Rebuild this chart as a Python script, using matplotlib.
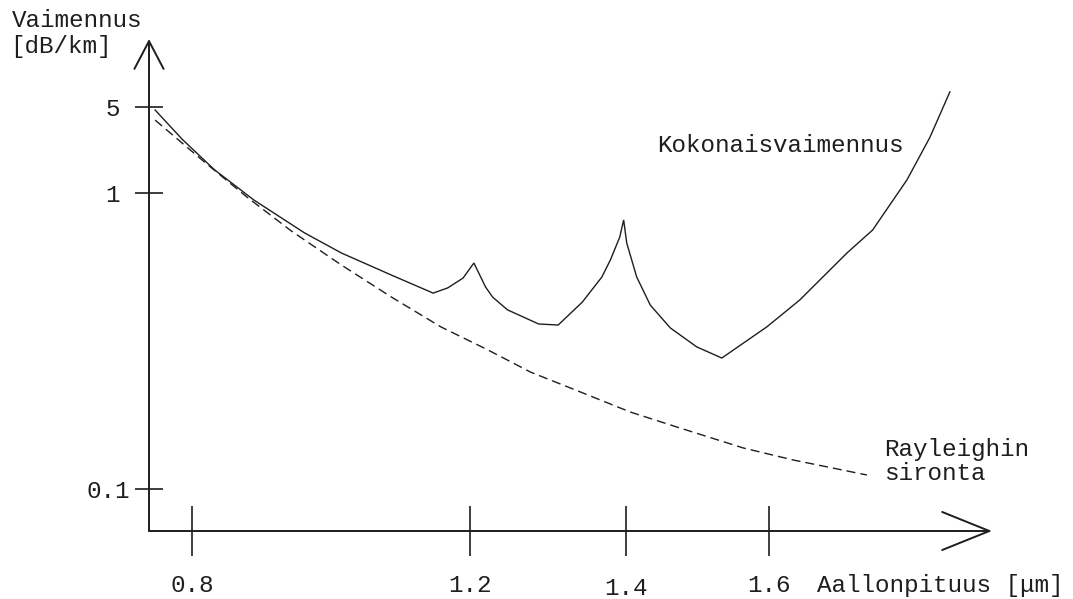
# Optical fibre attenuation vs wavelength (schematic sketch)
import numpy as np
import matplotlib
matplotlib.use("Agg")
import matplotlib.pyplot as plt
from matplotlib.transforms import ScaledTranslation

# Values: wavelength [um], attenuation [dB/km]
total_wl = [0.747, 0.786, 0.832, 0.889, 0.962, 1.015, 1.087, 1.147, 1.168, 1.190,
            1.205, 1.220, 1.229, 1.248, 1.288, 1.313, 1.344, 1.369, 1.380, 1.392,
            1.397, 1.401, 1.415, 1.434, 1.462, 1.499, 1.534, 1.597, 1.643, 1.709,
            1.745, 1.793, 1.825, 1.853]
total_att = [4.72, 2.73, 1.55, 0.947, 0.733, 0.627, 0.528, 0.459, 0.478, 0.516,
             0.580, 0.481, 0.445, 0.403, 0.361, 0.358, 0.428, 0.520, 0.594, 0.710,
             0.811, 0.678, 0.520, 0.418, 0.350, 0.302, 0.277, 0.353, 0.435, 0.627,
             0.750, 1.28, 2.83, 6.64]

rayleigh_wl = [0.747, 0.819, 0.879, 0.943, 1.015, 1.087, 1.158, 1.223, 1.278,
               1.341, 1.406, 1.471, 1.564, 1.634, 1.737]
rayleigh_att = [3.91, 1.765, 0.969, 0.744, 0.571, 0.445, 0.353, 0.295, 0.248,
                0.213, 0.182, 0.162, 0.1376, 0.1253, 0.1115]

x_ticks = [0.8, 1.2, 1.4, 1.6]
x_tick_labels = ['0.8', '1.2', '1.4', '1.6']
y_ticks = [0.1, 1, 5]
y_tick_labels = ['0.1', '1', '5']

# The hand drawn axes are not evenly spaced: piecewise scale through the ticks
x_pos = [43, 321, 477, 620]                  # drawing units along the x axis
y_log = [-1.0, 0.0, np.log10(5)]
y_pos = [42, 338, 424]


def pw(x, xp, fp):
    """np.interp with linear extrapolation at both ends."""
    x = np.asarray(x, dtype=float)
    y = np.interp(x, xp, fp)
    lo = x < xp[0]
    hi = x > xp[-1]
    y[lo] = fp[0] + (x[lo] - xp[0]) * (fp[1] - fp[0]) / (xp[1] - xp[0])
    y[hi] = fp[-1] + (x[hi] - xp[-1]) * (fp[-1] - fp[-2]) / (xp[-1] - xp[-2])
    return y


def x_fwd(v):
    return pw(v, x_ticks, x_pos)


def x_inv(p):
    return pw(p, x_pos, x_ticks)


def y_fwd(v):
    return pw(np.log10(np.clip(np.asarray(v, dtype=float), 1e-6, None)), y_log, y_pos)


def y_inv(p):
    return 10 ** pw(p, y_pos, y_log)


W, H = 1073, 599
ink = '#1e1e1e'
font = 'Liberation Mono'
fs = 17.5

fig = plt.figure(figsize=(W / 100, H / 100), dpi=100)
fig.patch.set_facecolor('white')
ax = fig.add_axes([149 / W, 1 - 531 / H, (992 - 149) / W, (531 - 39) / H])
ax.set_xscale('function', functions=(x_fwd, x_inv))
ax.set_yscale('function', functions=(y_fwd, y_inv))
ax.set_xlim(*x_inv([0, 992 - 149]))
ax.set_ylim(*y_inv([0, 531 - 39]))

ax.plot(total_wl, total_att, color=ink, lw=1.0, solid_joinstyle='miter')
ax.plot(rayleigh_wl, rayleigh_att, color=ink, lw=1.0, dashes=(6.5, 3.6))

# axes drawn as arrows with open heads
for s in ax.spines.values():
    s.set_visible(False)
ax.annotate('', xy=(0, 1), xytext=(0, 0), xycoords='axes fraction',
            arrowprops=dict(arrowstyle='->, head_length=20, head_width=10.5',
                            mutation_scale=1, lw=1.4, color=ink,
                            shrinkA=0, shrinkB=0))
ax.annotate('', xy=(1, 0), xytext=(0, 0), xycoords='axes fraction',
            arrowprops=dict(arrowstyle='->, head_length=34, head_width=13.7',
                            mutation_scale=1, lw=1.4, color=ink,
                            shrinkA=0, shrinkB=0))

ax.set_xticks(x_ticks)
ax.set_xticklabels(x_tick_labels, fontfamily=font, fontsize=fs, color=ink)
ax.set_yticks(y_ticks)
ax.set_yticklabels(y_tick_labels, fontfamily=font, fontsize=fs, color=ink)
ax.minorticks_off()
ax.tick_params(axis='x', direction='inout', length=36, width=1.2, color=ink, pad=13)
ax.tick_params(axis='y', direction='inout', length=19.5, width=1.2, color=ink, pad=11)

# small hand offsets of individual tick labels
for lab in ax.get_xticklabels():
    if lab.get_text() == '1.4':
        lab.set_transform(lab.get_transform() + ScaledTranslation(0, -3 / 100, fig.dpi_scale_trans))
for lab in ax.get_yticklabels():
    if lab.get_text() == '0.1':
        lab.set_transform(lab.get_transform() + ScaledTranslation(10 / 100, 0, fig.dpi_scale_trans))


def label(x, y, s):
    fig.text(x / W, 1 - y / H, s, fontfamily=font, fontsize=fs, color=ink,
             ha='left', va='baseline')


label(12, 27, 'Vaimennus')
label(10, 53, '[dB/km]')
label(657, 152, 'Kokonaisvaimennus')
label(884, 456, 'Rayleighin')
label(884, 480, 'sironta')
label(817, 592, 'Aallonpituus [μm]')

fig.savefig('out.png', dpi=100, facecolor='white')
